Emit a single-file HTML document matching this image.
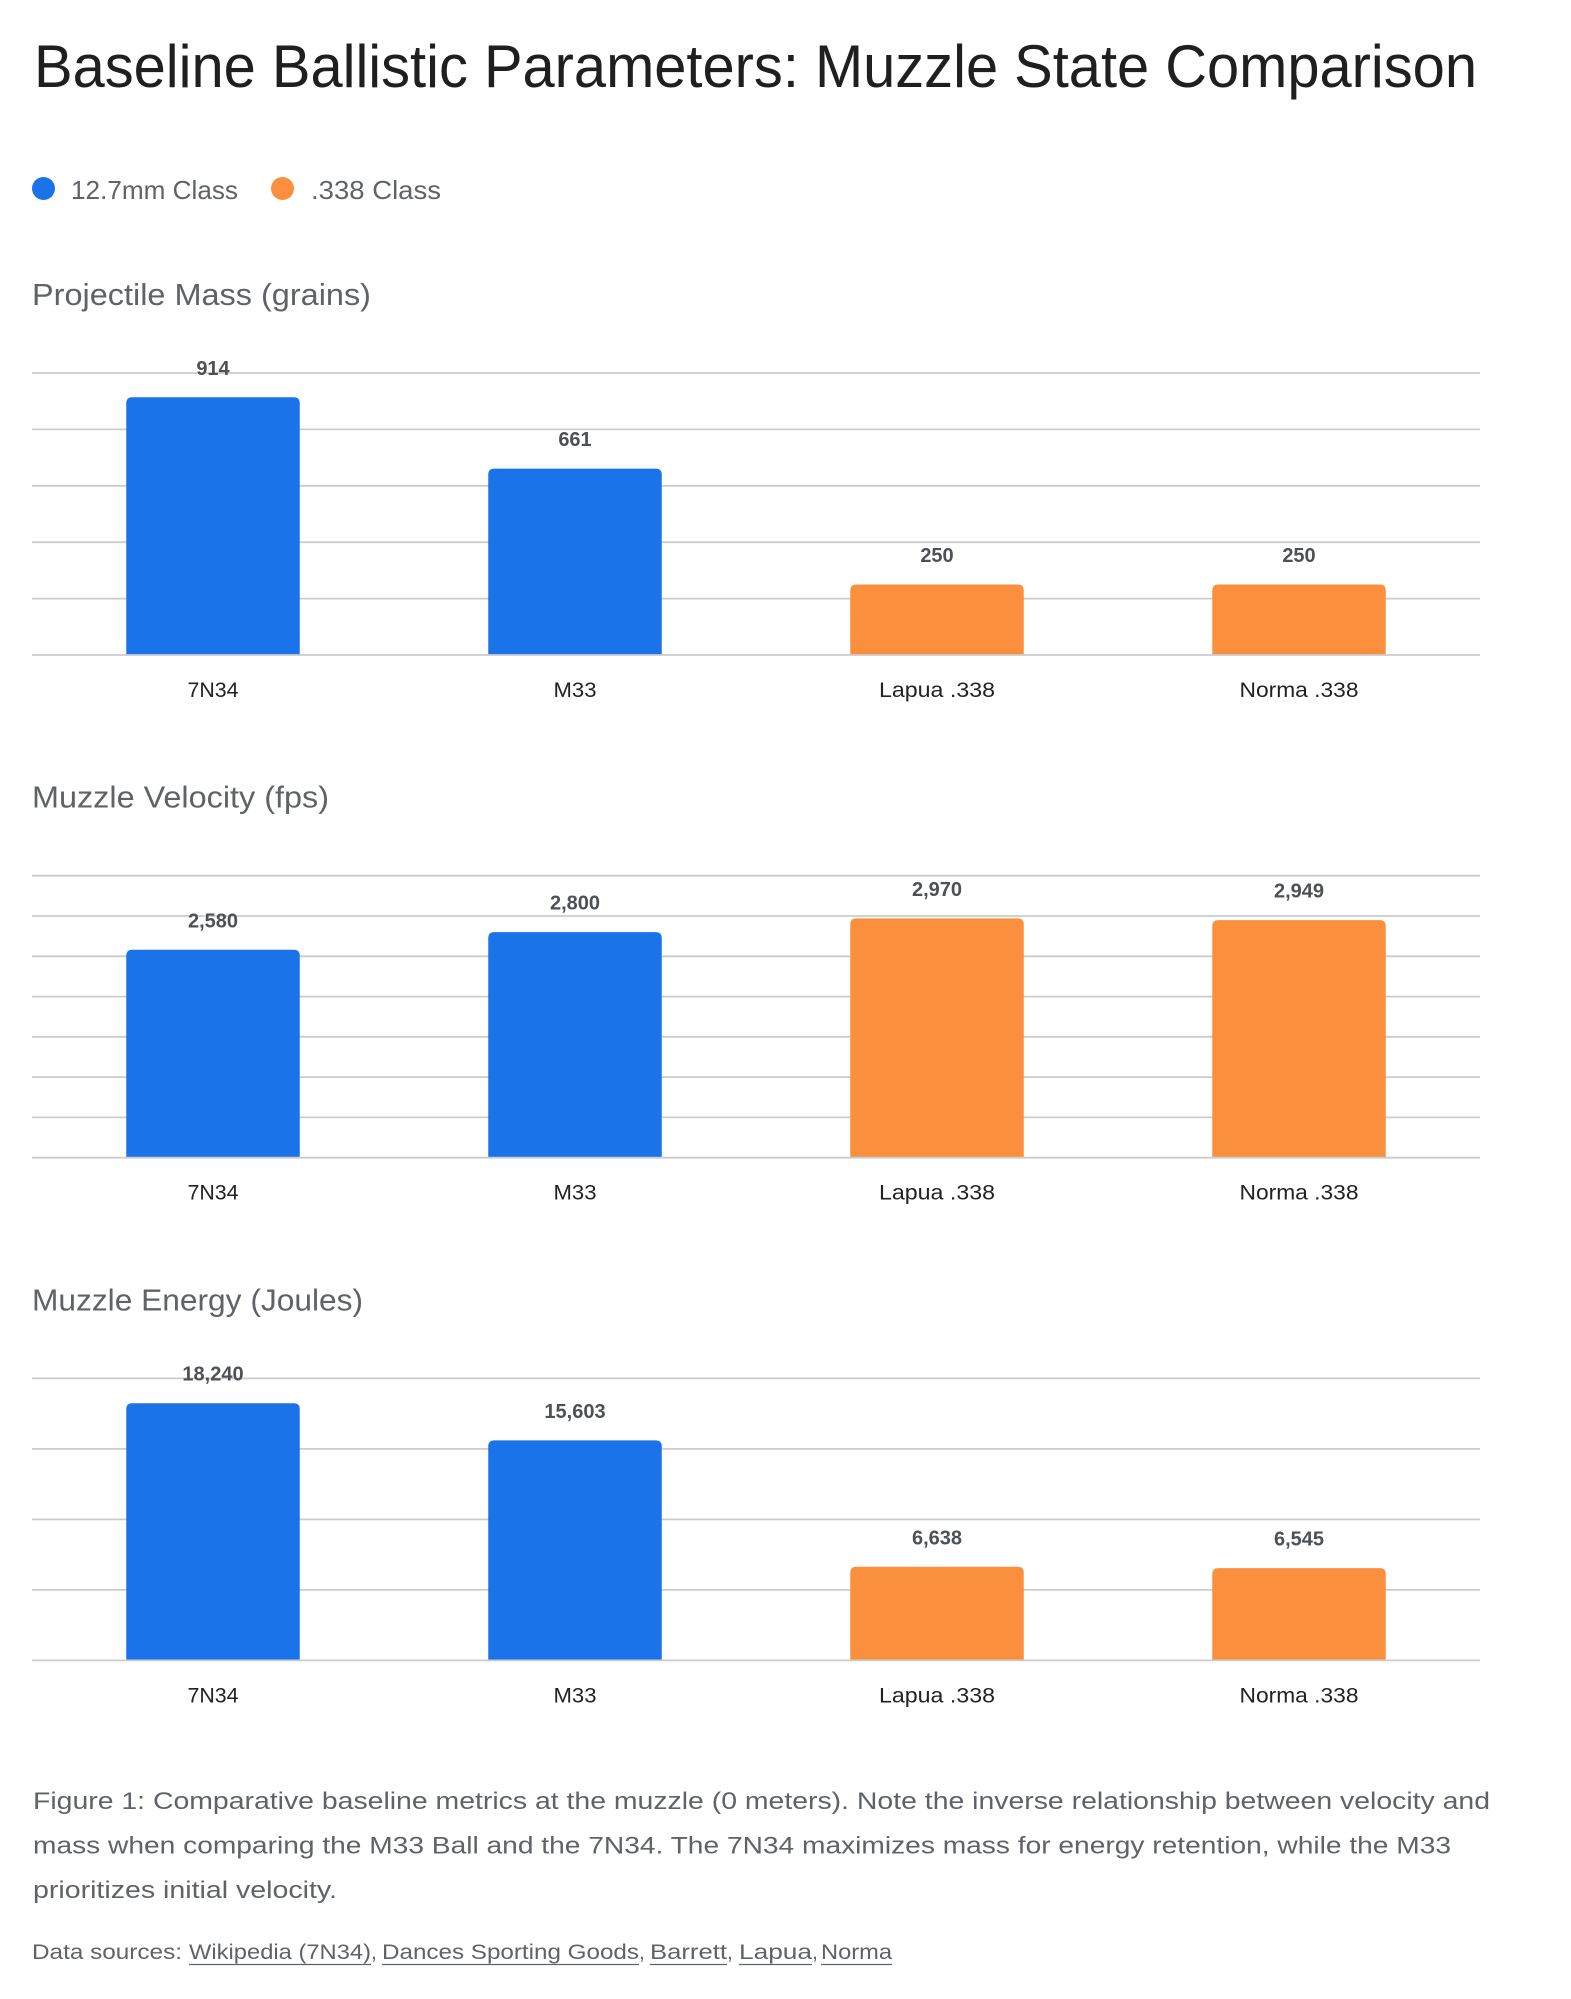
<!DOCTYPE html>
<html>
<head>
<meta charset="utf-8">
<style>
  html,body{margin:0;padding:0;background:#fff;}
  svg{display:block;}
  text{font-family:"Liberation Sans",Arial,sans-serif;}
</style>
</head>
<body>
<svg width="1571" height="1999" viewBox="0 0 1571 1999" xmlns="http://www.w3.org/2000/svg">
  <rect width="1571" height="1999" fill="#ffffff"/>

  <!-- Title -->
  <text x="34" y="87" font-size="60" fill="#1f1f1f" textLength="1443" lengthAdjust="spacingAndGlyphs">Baseline Ballistic Parameters: Muzzle State Comparison</text>

  <!-- Legend -->
  <circle cx="43.5" cy="188.5" r="11.5" fill="#1a73e8"/>
  <text x="71" y="199" font-size="26" fill="#5f6368" textLength="167" lengthAdjust="spacingAndGlyphs">12.7mm Class</text>
  <circle cx="282.5" cy="188.5" r="11.5" fill="#fa903e"/>
  <text x="311" y="199" font-size="26" fill="#5f6368" textLength="130" lengthAdjust="spacingAndGlyphs">.338 Class</text>

  <!-- ============ Chart 1 ============ -->
  <text x="32" y="305" font-size="31" fill="#5f6368" textLength="339" lengthAdjust="spacingAndGlyphs">Projectile Mass (grains)</text>
  <g stroke="#cccccc" stroke-width="1.8">
    <line x1="32" x2="1480" y1="373" y2="373"/>
    <line x1="32" x2="1480" y1="429.4" y2="429.4"/>
    <line x1="32" x2="1480" y1="485.8" y2="485.8"/>
    <line x1="32" x2="1480" y1="542.2" y2="542.2"/>
    <line x1="32" x2="1480" y1="598.6" y2="598.6"/>
  </g>
  <path fill="#1a73e8" d="M126.25,655 V403.3 Q126.25,397.3 132.25,397.3 H293.75 Q299.75,397.3 299.75,403.3 V655 Z"/>
  <path fill="#1a73e8" d="M488.25,655 V474.6 Q488.25,468.6 494.25,468.6 H655.75 Q661.75,468.6 661.75,474.6 V655 Z"/>
  <path fill="#fa903e" d="M850.25,655 V590.5 Q850.25,584.5 856.25,584.5 H1017.75 Q1023.75,584.5 1023.75,590.5 V655 Z"/>
  <path fill="#fa903e" d="M1212.25,655 V590.5 Q1212.25,584.5 1218.25,584.5 H1379.75 Q1385.75,584.5 1385.75,590.5 V655 Z"/>
  <line x1="32" x2="1480" y1="655" y2="655" stroke="#cccccc" stroke-width="1.8"/>
  <g font-size="20" font-weight="bold" fill="#4d5156" text-anchor="middle">
    <text x="213" y="374.8">914</text>
    <text x="575" y="446.1">661</text>
    <text x="937" y="562">250</text>
    <text x="1299" y="562">250</text>
  </g>
  <g font-size="21" fill="#222222" text-anchor="middle">
    <text x="213" y="697" textLength="51" lengthAdjust="spacingAndGlyphs">7N34</text>
    <text x="575" y="697" textLength="43" lengthAdjust="spacingAndGlyphs">M33</text>
    <text x="937" y="697" textLength="116" lengthAdjust="spacingAndGlyphs">Lapua .338</text>
    <text x="1299" y="697" textLength="119" lengthAdjust="spacingAndGlyphs">Norma .338</text>
  </g>

  <!-- ============ Chart 2 ============ -->
  <text x="32" y="807.7" font-size="31" fill="#5f6368" textLength="297" lengthAdjust="spacingAndGlyphs">Muzzle Velocity (fps)</text>
  <g stroke="#cccccc" stroke-width="1.8">
    <line x1="32" x2="1480" y1="875.7" y2="875.7"/>
    <line x1="32" x2="1480" y1="916" y2="916"/>
    <line x1="32" x2="1480" y1="956.3" y2="956.3"/>
    <line x1="32" x2="1480" y1="996.6" y2="996.6"/>
    <line x1="32" x2="1480" y1="1036.8" y2="1036.8"/>
    <line x1="32" x2="1480" y1="1077.1" y2="1077.1"/>
    <line x1="32" x2="1480" y1="1117.4" y2="1117.4"/>
  </g>
  <path fill="#1a73e8" d="M126.25,1157.7 V955.8 Q126.25,949.8 132.25,949.8 H293.75 Q299.75,949.8 299.75,955.8 V1157.7 Z"/>
  <path fill="#1a73e8" d="M488.25,1157.7 V938.1 Q488.25,932.1 494.25,932.1 H655.75 Q661.75,932.1 661.75,938.1 V1157.7 Z"/>
  <path fill="#fa903e" d="M850.25,1157.7 V924.4 Q850.25,918.4 856.25,918.4 H1017.75 Q1023.75,918.4 1023.75,924.4 V1157.7 Z"/>
  <path fill="#fa903e" d="M1212.25,1157.7 V926.1 Q1212.25,920.1 1218.25,920.1 H1379.75 Q1385.75,920.1 1385.75,926.1 V1157.7 Z"/>
  <line x1="32" x2="1480" y1="1157.7" y2="1157.7" stroke="#cccccc" stroke-width="1.8"/>
  <g font-size="20" font-weight="bold" fill="#4d5156" text-anchor="middle">
    <text x="213" y="927.3">2,580</text>
    <text x="575" y="909.6">2,800</text>
    <text x="937" y="895.9">2,970</text>
    <text x="1299" y="897.6">2,949</text>
  </g>
  <g font-size="21" fill="#222222" text-anchor="middle">
    <text x="213" y="1199.7" textLength="51" lengthAdjust="spacingAndGlyphs">7N34</text>
    <text x="575" y="1199.7" textLength="43" lengthAdjust="spacingAndGlyphs">M33</text>
    <text x="937" y="1199.7" textLength="116" lengthAdjust="spacingAndGlyphs">Lapua .338</text>
    <text x="1299" y="1199.7" textLength="119" lengthAdjust="spacingAndGlyphs">Norma .338</text>
  </g>

  <!-- ============ Chart 3 ============ -->
  <text x="32" y="1310.4" font-size="31" fill="#5f6368" textLength="331" lengthAdjust="spacingAndGlyphs">Muzzle Energy (Joules)</text>
  <g stroke="#cccccc" stroke-width="1.8">
    <line x1="32" x2="1480" y1="1378.4" y2="1378.4"/>
    <line x1="32" x2="1480" y1="1448.9" y2="1448.9"/>
    <line x1="32" x2="1480" y1="1519.4" y2="1519.4"/>
    <line x1="32" x2="1480" y1="1589.9" y2="1589.9"/>
  </g>
  <path fill="#1a73e8" d="M126.25,1660.4 V1409.2 Q126.25,1403.2 132.25,1403.2 H293.75 Q299.75,1403.2 299.75,1409.2 V1660.4 Z"/>
  <path fill="#1a73e8" d="M488.25,1660.4 V1446.4 Q488.25,1440.4 494.25,1440.4 H655.75 Q661.75,1440.4 661.75,1446.4 V1660.4 Z"/>
  <path fill="#fa903e" d="M850.25,1660.4 V1572.8 Q850.25,1566.8 856.25,1566.8 H1017.75 Q1023.75,1566.8 1023.75,1572.8 V1660.4 Z"/>
  <path fill="#fa903e" d="M1212.25,1660.4 V1574.1 Q1212.25,1568.1 1218.25,1568.1 H1379.75 Q1385.75,1568.1 1385.75,1574.1 V1660.4 Z"/>
  <line x1="32" x2="1480" y1="1660.4" y2="1660.4" stroke="#cccccc" stroke-width="1.8"/>
  <g font-size="20" font-weight="bold" fill="#4d5156" text-anchor="middle">
    <text x="213" y="1380.7">18,240</text>
    <text x="575" y="1417.9">15,603</text>
    <text x="937" y="1544.3">6,638</text>
    <text x="1299" y="1545.6">6,545</text>
  </g>
  <g font-size="21" fill="#222222" text-anchor="middle">
    <text x="213" y="1702.4" textLength="51" lengthAdjust="spacingAndGlyphs">7N34</text>
    <text x="575" y="1702.4" textLength="43" lengthAdjust="spacingAndGlyphs">M33</text>
    <text x="937" y="1702.4" textLength="116" lengthAdjust="spacingAndGlyphs">Lapua .338</text>
    <text x="1299" y="1702.4" textLength="119" lengthAdjust="spacingAndGlyphs">Norma .338</text>
  </g>

  <!-- Caption -->
  <g font-size="24" fill="#5f6368">
    <text x="33" y="1809" textLength="1457" lengthAdjust="spacingAndGlyphs">Figure 1: Comparative baseline metrics at the muzzle (0 meters). Note the inverse relationship between velocity and</text>
    <text x="33" y="1853.5" textLength="1418" lengthAdjust="spacingAndGlyphs">mass when comparing the M33 Ball and the 7N34. The 7N34 maximizes mass for energy retention, while the M33</text>
    <text x="33" y="1898" textLength="304" lengthAdjust="spacingAndGlyphs">prioritizes initial velocity.</text>
  </g>

  <!-- Data sources -->
  <g font-size="21" fill="#5f6368">
    <text x="32" y="1959" textLength="150" lengthAdjust="spacingAndGlyphs">Data sources:</text>
    <text x="189" y="1959" textLength="182" lengthAdjust="spacingAndGlyphs">Wikipedia (7N34)</text>
    <text x="371" y="1959">,</text>
    <text x="382" y="1959" textLength="257" lengthAdjust="spacingAndGlyphs">Dances Sporting Goods</text>
    <text x="639" y="1959">,</text>
    <text x="650" y="1959" textLength="77" lengthAdjust="spacingAndGlyphs">Barrett</text>
    <text x="727" y="1959">,</text>
    <text x="739" y="1959" textLength="73" lengthAdjust="spacingAndGlyphs">Lapua</text>
    <text x="812" y="1959">,</text>
    <text x="821" y="1959" textLength="71" lengthAdjust="spacingAndGlyphs">Norma</text>
  </g>
  <g stroke="#5f6368" stroke-width="1.3">
    <line x1="189" x2="371" y1="1964.5" y2="1964.5"/>
    <line x1="382" x2="639" y1="1964.5" y2="1964.5"/>
    <line x1="650" x2="727" y1="1964.5" y2="1964.5"/>
    <line x1="739" x2="812" y1="1964.5" y2="1964.5"/>
    <line x1="821" x2="892" y1="1964.5" y2="1964.5"/>
  </g>
</svg>
</body>
</html>
